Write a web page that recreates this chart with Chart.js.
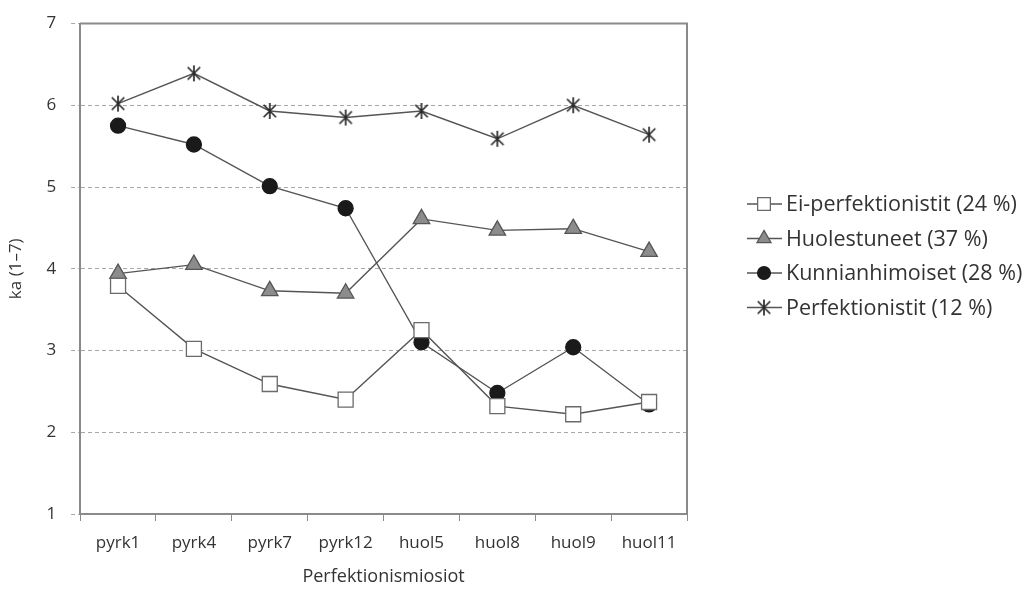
<!DOCTYPE html>
<html>
<head>
<meta charset="utf-8">
<script src="https://cdn.jsdelivr.net/npm/chart.js@4.4.1/dist/chart.umd.min.js"></script>
<style>
  html, body { margin: 0; padding: 0; background: #fff; }
  #wrap { width: 1031px; height: 598px; position: relative; }
</style>
</head>
<body>
<div id="wrap"><canvas id="chart"></canvas></div>
<script>
/* ── Data ─────────────────────────────────────────────────────── */
var categories = ["pyrk1", "pyrk4", "pyrk7", "pyrk12", "huol5", "huol8", "huol9", "huol11"];
var eiPerfektionistit = [3.79, 3.02, 2.59, 2.40, 3.25, 2.32, 2.22, 2.37];
var huolestuneet = [3.94, 4.05, 3.73, 3.70, 4.61, 4.47, 4.49, 4.21];
var kunnianhimoiset = [5.75, 5.52, 5.01, 4.74, 3.10, 2.48, 3.04, 2.34];
var perfektionistit = [6.02, 6.39, 5.93, 5.85, 5.93, 5.59, 6.00, 5.64];
var seriesLabels = ["Ei-perfektionistit (24 %)", "Huolestuneet (37 %)", "Kunnianhimoiset (28 %)", "Perfektionistit (12 %)"];
var yTicks = [1, 2, 3, 4, 5, 6, 7];

/* ── Helpers ──────────────────────────────────────────────────── */
var FONT = "'Open Sans', 'Noto Sans', sans-serif";
var TEXT = "#333333";
var LINE = "#555555";

function asterisk(size) {
  var c = document.createElement("canvas");
  c.width = size; c.height = size;
  var g = c.getContext("2d");
  var m = size / 2, r = size / 2 - 1;
  g.strokeStyle = "#2a2a2a";
  g.lineWidth = 1.7;
  g.beginPath();
  g.moveTo(m, m - r); g.lineTo(m, m + r);
  var d = r * 0.78;
  g.moveTo(m - d, m - d); g.lineTo(m + d, m + d);
  g.moveTo(m + d, m - d); g.lineTo(m - d, m + d);
  g.stroke();
  return c;
}
var starImg = asterisk(18);

function ds(label, data, style, radius, bg, border) {
  return {
    label: label,
    data: data,
    borderColor: LINE,
    borderWidth: 1.4,
    pointStyle: style,
    pointRadius: radius,
    pointHoverRadius: radius,
    pointBackgroundColor: bg,
    pointBorderColor: border,
    pointBorderWidth: 1.3,
    tension: 0,
    fill: false
  };
}

/* ── Plugins ──────────────────────────────────────────────────── */
var frame = {
  id: "frame",
  afterDatasetsDraw: function (chart) {
    var a = chart.chartArea, ctx = chart.ctx;
    ctx.save();
    ctx.strokeStyle = "#8a8a8a";
    ctx.lineWidth = 2;
    ctx.beginPath();
    ctx.moveTo(a.left, a.top);
    ctx.lineTo(a.right, a.top);
    ctx.lineTo(a.right, a.bottom);
    ctx.stroke();
    ctx.restore();
  }
};

var sideLegend = {
  id: "sideLegend",
  afterDraw: function (chart) {
    var ctx = chart.ctx;
    var x0 = 747, y0 = 204, gap = 34.5;
    ctx.save();
    ctx.font = "21.5px " + FONT;
    ctx.textBaseline = "middle";
    chart.data.datasets.forEach(function (d, i) {
      var y = y0 + i * gap;
      ctx.strokeStyle = LINE;
      ctx.lineWidth = 1.4;
      ctx.beginPath();
      ctx.moveTo(x0, y); ctx.lineTo(x0 + 35, y);
      ctx.stroke();
      ctx.fillStyle = d.pointBackgroundColor;
      ctx.strokeStyle = d.pointBorderColor;
      ctx.lineWidth = d.pointBorderWidth;
      Chart.helpers.drawPoint(ctx, {
        pointStyle: d.pointStyle,
        radius: d.pointRadius * 0.85,
        borderWidth: d.pointBorderWidth,
        rotation: 0
      }, x0 + 17, y);
      ctx.fillStyle = TEXT;
      ctx.fillText(d.label, x0 + 39, y + 1);
    });
    ctx.restore();
  }
};

/* ── Chart ────────────────────────────────────────────────────── */
new Chart(document.getElementById("chart").getContext("2d"), {
  type: "line",
  data: {
    labels: categories,
    datasets: [
      ds(seriesLabels[0], eiPerfektionistit, "rect", 10.6, "#ffffff", "#6a6a6a"),
      ds(seriesLabels[1], huolestuneet, "triangle", 9.5, "#8c8c8c", "#555555"),
      ds(seriesLabels[2], kunnianhimoiset, "circle", 7.5, "#1a1a1a", "#1a1a1a"),
      ds(seriesLabels[3], perfektionistit, starImg, 9, "#2a2a2a", "#2a2a2a")
    ]
  },
  options: {
    responsive: true,
    maintainAspectRatio: false,
    animation: false,
    layout: { padding: { left: 2, right: 344, top: 0, bottom: 6 } },
    plugins: {
      legend: { display: false },
      tooltip: { enabled: false }
    },
    scales: {
      x: {
        offset: true,
        grid: {
          offset: true,
          drawOnChartArea: false,
          drawTicks: true,
          tickLength: 7,
          color: "#8a8a8a"
        },
        border: { display: true, color: "#8a8a8a", width: 2 },
        ticks: { color: TEXT, font: { family: FONT, size: 17 }, padding: 12, maxRotation: 0 },
        title: {
          display: true,
          text: "Perfektionismiosiot",
          color: TEXT,
          font: { family: FONT, size: 18 },
          padding: { top: 1 }
        }
      },
      y: {
        min: 1,
        max: 7,
        afterBuildTicks: function (scale) {
          scale.ticks = yTicks.map(function (v) { return { value: v }; });
        },
        grid: {
          color: "#a8a8a8",
          lineWidth: 1,
          tickLength: 9,
          tickBorderDash: [4, 3]
        },
        border: { display: true, color: "#8a8a8a", width: 2, dash: [4, 3] },
        ticks: { color: TEXT, font: { family: FONT, size: 17, lineHeight: 1 }, padding: 15 },
        title: {
          display: true,
          text: "ka (1\u20137)",
          color: TEXT,
          font: { family: FONT, size: 17 },
          padding: { bottom: 5 }
        }
      }
    }
  },
  plugins: [frame, sideLegend]
});
</script>
</body>
</html>
